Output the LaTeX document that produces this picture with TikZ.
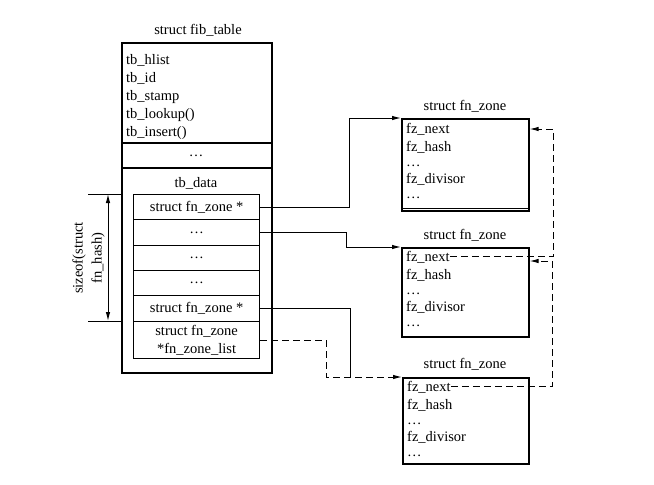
\documentclass[tikz,border=0pt]{standalone}
\usepackage{fontspec}
\setmainfont{Liberation Serif}
\usetikzlibrary{arrows.meta,calc}
\begin{document}
\begin{tikzpicture}[x=1pt,y=-1pt,
  box/.style={draw,line width=1.6pt,inner sep=0pt,anchor=north west},
  cell/.style={draw,line width=1.2pt,inner sep=0pt,minimum width=126pt,anchor=north west,
    font=\fontsize{14.5}{18}\selectfont,align=center},
  txt/.style={inner sep=0pt,font=\fontsize{14.5}{18}\selectfont},
  fld/.style={txt,anchor=base west},
  ttl/.style={txt,anchor=base},
  sep/.style={line width=1.1pt},
  conn/.style={line width=1pt,-{Latex[length=9pt,width=4.5pt]}},
  plainconn/.style={line width=1pt},
  dconn/.style={conn,dash pattern=on 7pt off 4pt},
  dim/.style={line width=1pt}
]
\useasboundingbox (0,0) rectangle (654,485);

% ---- fib_table ----
\node[ttl] (fibt) at (198,34) {struct fib\_table};
\node[box,minimum width=150pt,minimum height=330pt] (fib) at (121,42) {};
\draw[sep] (fib.west |- 0,143) -- (fib.east |- 0,143);
\draw[sep] (fib.west |- 0,168) -- (fib.east |- 0,168);
\node[fld] (f1) at (126,64) {tb\_hlist};
\node[fld] (f2) at (126,82) {tb\_id};
\node[fld] (f3) at (126,100) {tb\_stamp};
\node[fld] (f4) at (126,118) {tb\_lookup()};
\node[fld] (f5) at (126,136) {tb\_insert()};
\node[txt] (d0) at (196,156) {…};
\node[ttl] (tbd) at (196,187) {tb\_data};

\node[cell,minimum height=25pt] (r1) at (133,194) {struct fn\_zone *};
\node[cell,minimum height=26pt] (r2) at (133,219) {…};
\node[cell,minimum height=25pt] (r3) at (133,245) {…};
\node[cell,minimum height=25pt] (r4) at (133,270) {…};
\node[cell,minimum height=26pt] (r5) at (133,295) {struct fn\_zone *};
\node[cell,minimum height=37pt] (r6) at (133,321) {struct fn\_zone\\*fn\_zone\_list};

% ---- sizeof dimension ----
\coordinate (ta) at (88,194);
\coordinate (tb) at (88,321);
\coordinate (aa) at (108,194);
\coordinate (ab) at (108,321);
\draw[dim] (ta) -- (fib.west |- ta);
\draw[dim] (tb) -- (fib.west |- tb);
\draw[dim,{Latex[length=9pt,width=4.5pt]}-{Latex[length=9pt,width=4.5pt]}] (aa) -- (ab);
\node[txt,rotate=90,align=center,font=\fontsize{14.5}{19}\selectfont] (sz) at (88.5,258) {sizeof(struct\\fn\_hash)};

% ---- fn_zone 1 ----
\node[ttl] (z1t) at (465,110) {struct fn\_zone};
\node[box,minimum width=127pt,minimum height=92pt] (z1) at (401,118) {};
\draw[sep] (z1.south west) ++(0,-3) -- ++(127,0);
\node[fld] (z1n) at (406,133) {fz\_next};
\node[fld] (z1h) at (406,151) {fz\_hash};
\node[fld] (z1d) at (406,166) {…};
\node[fld] (z1v) at (406,183) {fz\_divisor};
\node[fld] (z1e) at (406,198) {…};

% ---- fn_zone 2 ----
\node[ttl] (z2t) at (465,239) {struct fn\_zone};
\node[box,minimum width=127pt,minimum height=89pt] (z2) at (401,247) {};
\node[fld] (z2n) at (406,261) {fz\_next};
\node[fld] (z2h) at (406,279) {fz\_hash};
\node[fld] (z2d) at (406,294) {…};
\node[fld] (z2v) at (406,311) {fz\_divisor};
\node[fld] (z2e) at (406,326) {…};

% ---- fn_zone 3 ----
\node[ttl] (z3t) at (465,368) {struct fn\_zone};
\node[box,minimum width=126pt,minimum height=86pt] (z3) at (402,377) {};
\node[fld] (z3n) at (407,391) {fz\_next};
\node[fld] (z3h) at (407,409) {fz\_hash};
\node[fld] (z3d) at (407,424) {…};
\node[fld] (z3v) at (407,441) {fz\_divisor};
\node[fld] (z3e) at (407,456) {…};

% ---- connectors ----
\draw[conn] (r1.east) -- ++(89,0) |- (z1.north west);
\draw[conn] (r2.east) -- ++(86,0) |- (z2.north west);
\coordinate (j3) at (350,377);
\draw[plainconn] (r5.east) -| (j3);
\draw[dconn] (r6.east) -- ++(66,0) |- (z3.north west);

\coordinate (v3) at (552,261);
\draw[dconn] (z3n.east) -| (v3) -- (z2.east |- v3);
\coordinate (v2) at (553,129);
\draw[dconn] (z2n.east) -| (v2) -- (z1.east |- v2);
\end{tikzpicture}
\end{document}
